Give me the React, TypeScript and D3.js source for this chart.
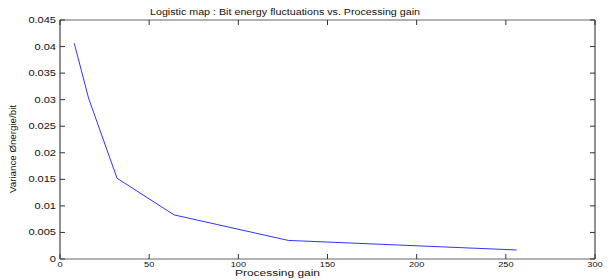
import React from "react";
import * as d3 from "d3";

const gains = [8, 16, 32, 64, 128, 256];
const variances = [0.0406, 0.0303, 0.0152, 0.0083, 0.0035, 0.0017];
const xTicks = [0, 50, 100, 150, 200, 250, 300];
const yTicks = [0, 0.005, 0.01, 0.015, 0.02, 0.025, 0.03, 0.035, 0.04, 0.045];
const yTickLabels = ["0", "0.005", "0.01", "0.015", "0.02", "0.025", "0.03", "0.035", "0.04", "0.045"];
const title = "Logistic map : Bit energy fluctuations vs. Processing gain";
const xLabel = "Processing gain";
const yLabel = "Variance Ønergie/bit";

export default function App() {
  const W = 612, H = 280;
  const left = 60, right = 595, top = 20, bottom = 259;
  const x = d3.scaleLinear().domain([0, 300]).range([left, right]);
  const y = d3.scaleLinear().domain([0, 0.045]).range([bottom, top]);
  const line = d3.line<number>().x((_, i) => x(gains[i])).y((d) => y(d));
  const font = "Liberation Sans, Arial, Helvetica, sans-serif";
  const tl = 5;
  return (
    <svg width={W} height={H} style={{ position: "absolute", left: 0, top: 0, background: "#fff" }}>
      <rect x={0} y={0} width={W} height={H} fill="#fff" />
      <line x1={left} y1={top} x2={right} y2={top} stroke="#999" strokeWidth={1.5} />
      <line x1={right} y1={top} x2={right} y2={bottom} stroke="#222" strokeWidth={1} />
      <line x1={left} y1={top} x2={left} y2={bottom} stroke="#222" strokeWidth={1} />
      <line x1={left} y1={bottom} x2={right} y2={bottom} stroke="#999" strokeWidth={1.5} />
      {xTicks.map((t) => (
        <g key={"x" + t}>
          <line x1={x(t)} x2={x(t)} y1={bottom} y2={bottom - tl} stroke="#333" />
          <line x1={x(t)} x2={x(t)} y1={top} y2={top + tl} stroke="#333" />
          <text
            transform={`translate(${x(t)}, 267) scale(1.15, 1)`}
            fontSize={8}
            fontFamily={font}
            textAnchor="middle"
            fill="#111"
          >
            {t}
          </text>
        </g>
      ))}
      {yTicks.map((t, i) => (
        <g key={"y" + t}>
          <line x1={left} x2={left + tl} y1={y(t)} y2={y(t)} stroke="#333" />
          <line x1={right} x2={right - tl} y1={y(t)} y2={y(t)} stroke="#333" />
          <text
            transform={`translate(${left - 4}, ${y(t) + 3}) scale(1.3, 1)`}
            fontSize={8.5}
            fontFamily={font}
            textAnchor="end"
            fill="#111"
          >
            {yTickLabels[i]}
          </text>
        </g>
      ))}
      <path d={line(variances) || ""} fill="none" stroke="#3333ff" strokeWidth={1} />
      <text x={150} y={15} fontSize={8.5} fontFamily={font} fill="#111" textLength={270} lengthAdjust="spacingAndGlyphs">
        {title}
      </text>
      <text x={235} y={275.5} fontSize={8.5} fontFamily={font} fill="#111" textLength={85} lengthAdjust="spacingAndGlyphs">
        {xLabel}
      </text>
      <text
        transform={`translate(16, 193) rotate(-90)`}
        fontSize={9.5}
        fontFamily="Liberation Sans Narrow, Arial Narrow, sans-serif"
        fill="#111"
        textLength={88}
        lengthAdjust="spacingAndGlyphs"
      >
        {yLabel}
      </text>
    </svg>
  );
}
